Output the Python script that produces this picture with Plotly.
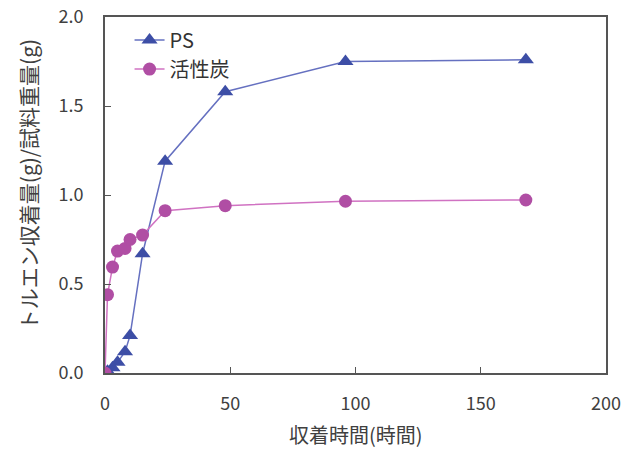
import plotly.graph_objects as go

# Data
hours_ps = [0, 1, 3, 5, 8, 10, 15, 24, 48, 96, 168]
ps_values = [0.0, 0.01, 0.03, 0.06, 0.12, 0.21, 0.67, 1.19, 1.58, 1.75, 1.76]
hours_ac = [0, 1, 3, 5, 8, 10, 15, 24, 48, 96, 168]
ac_values = [0.0, 0.44, 0.595, 0.685, 0.70, 0.75, 0.775, 0.912, 0.94, 0.965, 0.972]
x_ticks = [0, 50, 100, 150, 200]
y_ticks = [0.0, 0.5, 1.0, 1.5, 2.0]
y_tick_labels = ["0.0", "0.5", "1.0", "1.5", "2.0"]
x_title = "収着時間(時間)"
y_title = "トルエン収着量(g)/試料重量(g)"

font_family = "Noto Sans CJK JP, Noto Sans, sans-serif"
text_color = "#404040"

fig = go.Figure()
fig.add_trace(go.Scatter(
    x=hours_ps, y=ps_values, name="PS", mode="lines+markers",
    line=dict(color="#6570c0", width=1.5),
    marker=dict(symbol="triangle-up", size=14, color="#3d4ea6"),
))
fig.add_trace(go.Scatter(
    x=hours_ac, y=ac_values, name="活性炭", mode="lines+markers",
    line=dict(color="#d072c2", width=1.5),
    marker=dict(symbol="circle", size=13, color="#b04ea4"),
))

fig.update_layout(
    width=630, height=450,
    margin=dict(l=97, r=32, t=9, b=85, autoexpand=False),
    paper_bgcolor="white", plot_bgcolor="white",
    font=dict(family=font_family, size=18, color=text_color),
    showlegend=True,
    legend=dict(x=0.049, y=0.99, xanchor="left", yanchor="top",
                bgcolor="rgba(0,0,0,0)", font=dict(size=20, color="#333333"),
                itemwidth=30, tracegroupgap=0),
    annotations=[
        dict(text=x_title, xref="paper", yref="paper", x=0.5, y=-0.172,
             xanchor="center", yanchor="middle", showarrow=False,
             font=dict(size=20, color=text_color)),
        dict(text=y_title, xref="paper", yref="paper", x=-0.154, y=0.53,
             xanchor="center", yanchor="middle", showarrow=False, textangle=-90,
             font=dict(size=21, color=text_color)),
    ],
)
fig.update_xaxes(
    range=[0, 200], tickvals=x_ticks, ticks="inside", ticklen=6,
    tickcolor="#555555", showline=True, linecolor="#555555", linewidth=2,
    mirror=True, showgrid=False, zeroline=False, automargin=False,
    ticklabelstandoff=13, ticklabeloverflow="allow",
    tickfont=dict(size=18, color=text_color),
)
fig.update_yaxes(
    range=[0, 2.0], tickvals=y_ticks, ticktext=y_tick_labels, ticks="inside",
    ticklen=6, tickcolor="#555555", showline=True, linecolor="#555555",
    linewidth=2, mirror=True, showgrid=False, zeroline=False, automargin=False,
    ticklabelstandoff=16, ticklabeloverflow="allow",
    tickfont=dict(size=18, color=text_color),
)

fig.write_html("out.html")
